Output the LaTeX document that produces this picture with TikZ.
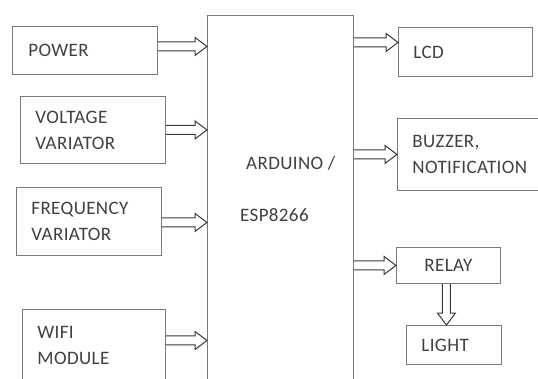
\documentclass[tikz,border=0pt]{standalone}
\usepackage{fontspec}
\setmainfont[LetterSpace=2]{Carlito}
\usetikzlibrary{calc}
\definecolor{boxgray}{HTML}{7A7A7A}
\definecolor{arrgray}{HTML}{3A3A3A}
\definecolor{txtgray}{HTML}{404040}
\begin{document}
\begin{tikzpicture}[x=1pt,y=-1pt,
  box/.style={draw=boxgray, line width=0.9pt, anchor=north west, inner ysep=0pt,
    text=txtgray, font=\fontsize{19}{26}\selectfont, align=left},
  lbl/.style={inner sep=0pt, anchor=west, text=txtgray, font=\fontsize{19}{26}\selectfont},
  harr/.style={draw=arrgray, line width=1pt, to path={
    ($(\tikztostart)+(0,4.5pt)$) -- ($(\tikztotarget)+(-12pt,4.5pt)$)
    -- ($(\tikztotarget)+(-12pt,9pt)$) -- (\tikztotarget)
    -- ($(\tikztotarget)+(-12pt,-9pt)$) -- ($(\tikztotarget)+(-12pt,-4.5pt)$)
    -- ($(\tikztostart)+(0,-4.5pt)$)}},
  varr/.style={draw=arrgray, line width=1pt, to path={
    ($(\tikztostart)+(-4pt,0)$) -- ($(\tikztotarget)+(-4pt,12pt)$)
    -- ($(\tikztotarget)+(-9pt,12pt)$) -- (\tikztotarget)
    -- ($(\tikztotarget)+(9pt,12pt)$) -- ($(\tikztotarget)+(4pt,12pt)$)
    -- ($(\tikztostart)+(4pt,0)$)}}]
\useasboundingbox (0,0) rectangle (538,379);
\clip (0,0) rectangle (538,379);
\fill[white] (0,0) rectangle (538,379);

% central block
\node[box, minimum width=146, minimum height=380, inner xsep=0pt] (ard) at (207,15) {};
\node[lbl] (ardtxt1) at (246,163) {ARDUINO /};
\node[lbl] (ardtxt2) at (240,215) {ESP8266};

% inputs
\node[box, minimum height=48, text width=113, inner xsep=16] (power) at (12,26) {POWER};
\node[box, minimum height=67, text width=115, inner xsep=15] (volt) at (20,96) {VOLTAGE\\VARIATOR};
\node[box, minimum height=68, text width=115, inner xsep=15] (freq) at (16,187) {FREQUENCY\\VARIATOR};
\node[box, minimum height=72, text width=113, inner xsep=15] (wifi) at (22,309) {WIFI\\MODULE};

% outputs
\node[box, minimum height=49, text width=104, inner xsep=15] (lcd) at (398,27) {LCD};
\node[box, minimum height=72, text width=130, inner xsep=15] (buzz) at (397,118) {BUZZER,\\NOTIFICATION};
\node[box, minimum height=36, minimum width=104, inner xsep=0pt, align=center] (relay) at (396,247) {RELAY};
\node[box, minimum height=39, text width=65, inner xsep=15] (light) at (406,325) {LIGHT};

% connectors
\draw[harr] ([yshift=4pt]power.east) to ([yshift=4pt]power.east -| ard.west);
\draw[harr] (volt.east) to (volt.east -| ard.west);
\draw[harr] ([yshift=-1pt]freq.east) to ([yshift=-1pt]freq.east -| ard.west);
\draw[harr] ([yshift=5pt]wifi.east) to ([yshift=5pt]wifi.east -| ard.west);
\draw[harr] ([yshift=9.5pt]lcd.west -| ard.east) to ([yshift=9.5pt]lcd.west);
\draw[harr] (buzz.west -| ard.east) to (buzz.west);
\draw[harr] (relay.west -| ard.east) to (relay.west);
\draw[varr] ([xshift=-2pt]relay.south) to ([xshift=-2pt]relay.south |- light.north);
\end{tikzpicture}
\end{document}
